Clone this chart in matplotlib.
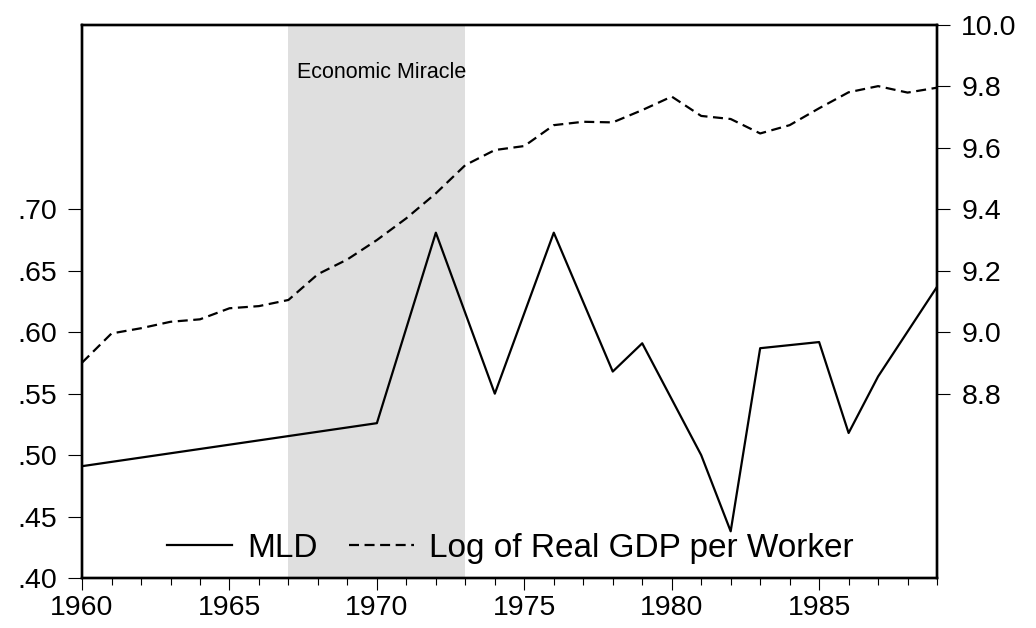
import numpy as np
import matplotlib
matplotlib.use("Agg")
import matplotlib.pyplot as plt
from matplotlib.ticker import MultipleLocator, FixedLocator, FuncFormatter

plt.rcParams['font.family'] = ['Liberation Sans', 'DejaVu Sans']

# MLD (left axis), only the years that carry a value
mld_years = [1960, 1964, 1970, 1972, 1974, 1976, 1978, 1979, 1981, 1982,
             1983, 1985, 1986, 1987, 1989]
mld_vals = [0.491, 0.505, 0.526, 0.681, 0.550, 0.681, 0.568, 0.591, 0.500,
            0.438, 0.587, 0.592, 0.518, 0.564, 0.637]

# log of real GDP per worker (right axis)
gdp_years = list(range(1960, 1990))
gdp_vals = [8.901, 8.996, 9.013, 9.034, 9.042, 9.078, 9.085, 9.105, 9.189, 9.237,
            9.300, 9.371, 9.452, 9.544, 9.593, 9.606, 9.674, 9.685, 9.683, 9.723,
            9.767, 9.704, 9.694, 9.647, 9.674, 9.729, 9.781, 9.801, 9.780, 9.796]

miracle = (1967, 1973)
left_ticks = [0.40, 0.45, 0.50, 0.55, 0.60, 0.65, 0.70]
right_ticks = [8.8, 9.0, 9.2, 9.4, 9.6, 9.8, 10.0]

fig = plt.figure(figsize=(10.36, 6.28), dpi=100)
ax = fig.add_axes([0.0792, 0.0796, 0.8253, 0.8806])
ax2 = ax.twinx()

ax.axvspan(miracle[0], miracle[1], color='#dfdfdf', lw=0, zorder=0)
l1, = ax.plot(mld_years, mld_vals, color='black', lw=1.6, label='MLD')
l2, = ax2.plot(gdp_years, gdp_vals, color='black', lw=1.6, dashes=(4.5, 2.5),
               label='Log of Real GDP per Worker')

ax.set_xlim(1960, 1989)
ax.set_ylim(0.40, 0.85)
ax2.set_ylim(8.2, 10.0)

ax.xaxis.set_major_locator(MultipleLocator(5))
ax.xaxis.set_minor_locator(MultipleLocator(1))
ax.yaxis.set_major_locator(FixedLocator(left_ticks))
ax.yaxis.set_major_formatter(FuncFormatter(lambda v, p: f"{v:.2f}".lstrip('0')))
ax2.yaxis.set_major_locator(FixedLocator(right_ticks))
ax2.yaxis.set_major_formatter(FuncFormatter(lambda v, p: f"{v:.1f}"))

for a in (ax, ax2):
    for s in a.spines.values():
        s.set_linewidth(1.7)
ax.tick_params(axis='y', direction='out', length=10, width=0.8, pad=8, labelsize=20.5)
ax2.tick_params(axis='y', direction='out', length=9.5, width=0.8, pad=8, labelsize=20.5)
ax.tick_params(axis='x', which='major', direction='out', length=8.5, width=0.8,
               pad=4, labelsize=20.5)
ax.tick_params(axis='x', which='minor', direction='out', length=5, width=0.8)

ax.text(miracle[0] + 0.3, 0.915, 'Economic Miracle', transform=ax.get_xaxis_transform(),
        fontsize=15.5, ha='left', va='center')

ax2.legend([l1, l2], [l1.get_label(), l2.get_label()], ncol=2, frameon=False,
           loc='center', bbox_to_anchor=(0.501, 0.054), fontsize=24,
           handlelength=1.95, handletextpad=0.45, columnspacing=0.95)

fig.savefig('out.png', dpi=100)
